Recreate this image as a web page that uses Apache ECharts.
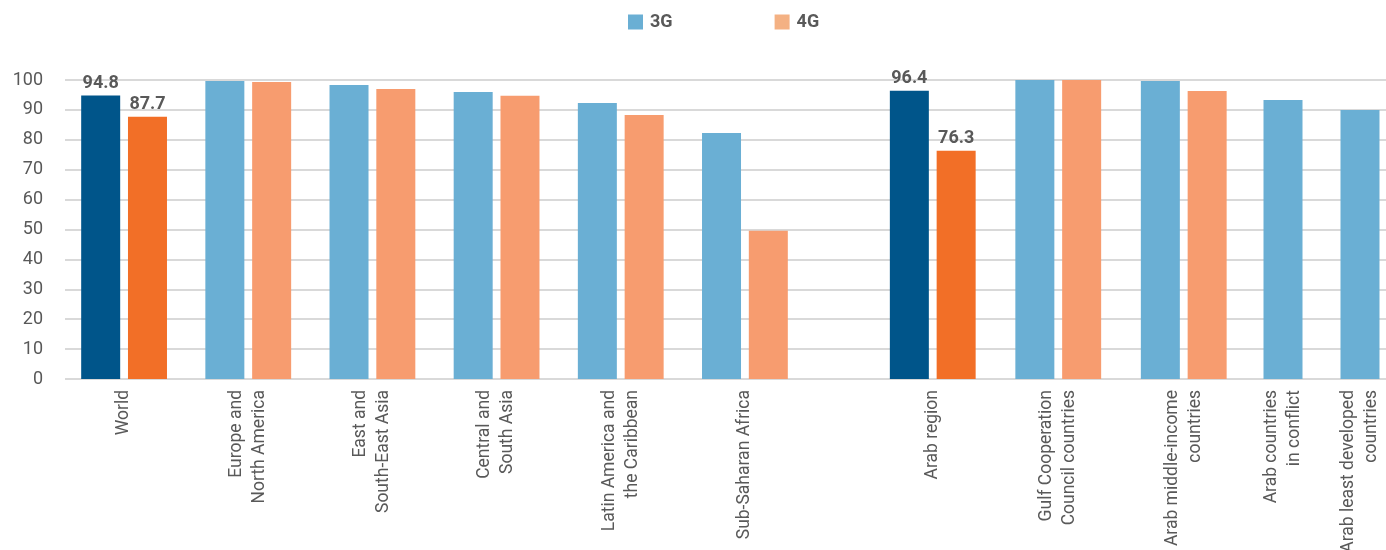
<!DOCTYPE html>
<html>
<head>
<meta charset="utf-8">
<script src="https://cdn.jsdelivr.net/npm/echarts@6.0.0/dist/echarts.min.js"></script>
<style>
  html, body { margin: 0; padding: 0; background: #fff; }
  #chart { width: 1386px; height: 550px; }
</style>
</head>
<body>
<div id="chart"></div>
<script>
// regions (left block)
const worldCats = ['World', 'Europe and\nNorth America', 'East and\nSouth-East Asia', 'Central and\nSouth Asia', 'Latin America and\nthe Caribbean', 'Sub-Saharan Africa'];
const world3G = [94.8, 99.7, 98.3, 96.0, 92.3, 82.3];
const world4G = [87.7, 99.3, 97.0, 94.7, 88.3, 49.6];

// arab block, both 3G and 4G
const arabCats = ['Arab region', 'Gulf Cooperation\nCouncil countries', 'Arab middle-income\ncountries'];
const arab3G = [96.4, 100, 99.7];
const arab4G = [76.3, 100, 96.3];

// arab block, 3G only
const arabOnlyCats = ['Arab countries\nin conflict', 'Arab least developed\ncountries'];
const arabOnly3G = [93.3, 90.0];

const yTicks = [0, 10, 20, 30, 40, 50, 60, 70, 80, 90, 100];

const c3G = '#6aafd4';
const c4G = '#f79c6f';
const c3Gdark = '#00558a';
const c4Gdark = '#f26f27';
const textColor = '#595959';
const font = 'Roboto';

// first bar of a block is the highlighted total, dark colour + value label
const mark = (vals, color) => vals.map((v, i) => i === 0 && color
    ? { value: v, itemStyle: { color: color }, label: { show: true } }
    : v);

const chartDom = document.getElementById('chart');
const myChart = echarts.init(chartDom);

const gTop = 80, gBottom = 171;

// outerBoundsMode none: keep the grids fixed even when long labels run off the bottom
let grid = [
    { left: 65, right: 0, top: gTop, bottom: gBottom, outerBoundsMode: 'none' },        // background: gridlines + y labels
    { left: 62, width: 745, top: gTop, bottom: gBottom, outerBoundsMode: 'none' },      // world regions
    { left: 870, width: 376.5, top: gTop, bottom: gBottom, outerBoundsMode: 'none' },   // arab 3G+4G
    { left: 1244.5, width: 154, top: gTop, bottom: gBottom, outerBoundsMode: 'none' }   // arab 3G only
];

let xLabel = {
    rotate: 90,
    interval: 0,
    margin: 11,
    fontSize: 17.5,
    lineHeight: 23,
    color: textColor,
    fontFamily: font
};

let xAxis = [
    { gridIndex: 0, type: 'category', data: [''], show: false },
    { gridIndex: 1, type: 'category', data: worldCats, axisLine: { show: false }, axisTick: { show: false }, axisLabel: xLabel },
    { gridIndex: 2, type: 'category', data: arabCats, axisLine: { show: false }, axisTick: { show: false }, axisLabel: xLabel },
    { gridIndex: 3, type: 'category', data: arabOnlyCats, axisLine: { show: false }, axisTick: { show: false }, axisLabel: xLabel }
];

let yHidden = (i) => ({ gridIndex: i, type: 'value', min: 0, max: 100, show: false, splitLine: { show: false } });

let yAxis = [
    {
        gridIndex: 0,
        type: 'value',
        min: yTicks[0],
        max: yTicks[yTicks.length - 1],
        interval: yTicks[1] - yTicks[0],
        axisLine: { show: false },
        axisTick: { show: false },
        axisLabel: { fontSize: 18, color: textColor, fontFamily: font, margin: 22 },
        splitLine: { lineStyle: { color: '#d9d9d9', width: 2 } }
    },
    yHidden(1), yHidden(2), yHidden(3)
];

let barLabel = {
    show: false,
    position: 'top',
    distance: 3,
    fontSize: 18,
    fontWeight: 'bold',
    color: textColor,
    fontFamily: font
};

let bar = (name, axis, data, color) => ({
    name,
    type: 'bar',
    xAxisIndex: axis,
    yAxisIndex: axis,
    data,
    barWidth: 39,
    barGap: '20%',
    itemStyle: { color },
    label: barLabel
});

let series = [
    bar('3G', 1, mark(world3G, c3Gdark), c3G),
    bar('4G', 1, mark(world4G, c4Gdark), c4G),
    bar('3G', 2, mark(arab3G, c3Gdark), c3G),
    bar('4G', 2, mark(arab4G, c4Gdark), c4G),
    bar('3G', 3, arabOnly3G, c3G)
];

let legend = {
    left: 628,
    top: 13,
    padding: 0,
    itemWidth: 15,
    itemHeight: 15,
    itemGap: 102,
    icon: 'rect',
    selectedMode: false,
    textStyle: { fontSize: 18, fontWeight: 'bold', color: textColor, fontFamily: font, padding: [0, 0, 0, 2] },
    data: [
        { name: '3G', itemStyle: { color: c3G } },
        { name: '4G', itemStyle: { color: '#f4b183' } }
    ]
};

const option = {
    animation: false,
    textStyle: { fontFamily: font },
    legend,
    grid,
    xAxis,
    yAxis,
    series
};

option && myChart.setOption(option);
</script>
</body>
</html>
